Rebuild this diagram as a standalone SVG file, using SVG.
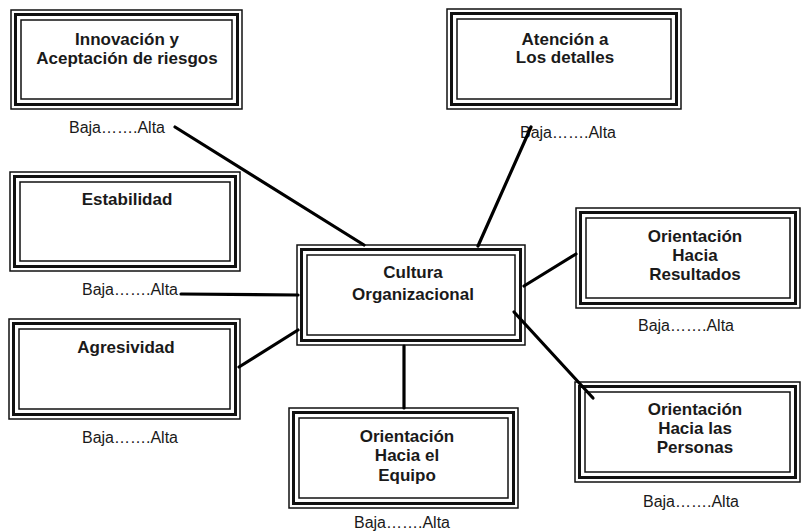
<svg xmlns="http://www.w3.org/2000/svg" width="802" height="531" viewBox="0 0 802 531">
<style>
.o{fill:#fff;stroke:#111;stroke-width:1.5}
.m{fill:none;stroke:#111;stroke-width:3}
.i{fill:none;stroke:#111;stroke-width:1.5}
.t{font-family:"Liberation Sans",Arial,sans-serif;font-weight:bold;font-size:17px;fill:#1a1a1a;text-anchor:middle}
.s{font-family:"Liberation Sans",Arial,sans-serif;font-size:16px;fill:#1a1a1a;text-anchor:middle}
.c{stroke:#000;stroke-width:3.2;fill:none;stroke-linecap:round}
</style>
<rect width="802" height="531" fill="#fff"/>
<g id="n-innovacion">
<rect class="o" x="11" y="10" width="231" height="99"/>
<rect class="m" x="15.5" y="14.5" width="222" height="90"/>
<rect class="i" x="21" y="20" width="211" height="79"/>
<text class="t" x="127" y="45">Innovación y</text>
<text class="t" x="127" y="64">Aceptación de riesgos</text>
<text class="s" x="117" y="133">Baja…….Alta</text>
</g>
<g id="n-atencion">
<rect class="o" x="447" y="9" width="234" height="100"/>
<rect class="m" x="451.5" y="13.5" width="225" height="91"/>
<rect class="i" x="457" y="19" width="214" height="80"/>
<text class="t" x="565" y="45">Atención a</text>
<text class="t" x="565" y="63">Los detalles</text>
<text class="s" x="568" y="138">Baja…….Alta</text>
</g>
<g id="n-estabilidad">
<rect class="o" x="10" y="172" width="230" height="99"/>
<rect class="m" x="14.5" y="176.5" width="221" height="90"/>
<rect class="i" x="20" y="182" width="210" height="79"/>
<text class="t" x="127" y="205">Estabilidad</text>
<text class="s" x="130" y="295">Baja…….Alta</text>
</g>
<g id="n-agresividad">
<rect class="o" x="9" y="319" width="231" height="100"/>
<rect class="m" x="13.5" y="323.5" width="222" height="91"/>
<rect class="i" x="19" y="329" width="211" height="80"/>
<text class="t" x="126" y="353">Agresividad</text>
<text class="s" x="130" y="443">Baja…….Alta</text>
</g>
<g id="n-cultura">
<rect class="o" x="297" y="245" width="228" height="100"/>
<rect class="m" x="301.5" y="249.5" width="219" height="91"/>
<rect class="i" x="307" y="255" width="208" height="80"/>
<text class="t" x="413" y="278">Cultura</text>
<text class="t" x="413" y="300">Organizacional</text>
</g>
<g id="n-resultados">
<rect class="o" x="576" y="208" width="224" height="100"/>
<rect class="m" x="580.5" y="212.5" width="215" height="91"/>
<rect class="i" x="586" y="218" width="204" height="80"/>
<text class="t" x="695" y="242">Orientación</text>
<text class="t" x="695" y="261">Hacia</text>
<text class="t" x="695" y="280">Resultados</text>
<text class="s" x="686" y="331">Baja…….Alta</text>
</g>
<g id="n-equipo">
<rect class="o" x="289" y="408" width="229" height="100"/>
<rect class="m" x="293.5" y="412.5" width="220" height="91"/>
<rect class="i" x="299" y="418" width="209" height="80"/>
<text class="t" x="407" y="442">Orientación</text>
<text class="t" x="407" y="461">Hacia el</text>
<text class="t" x="407" y="481">Equipo</text>
<text class="s" x="402" y="528">Baja…….Alta</text>
</g>
<g id="n-personas">
<rect class="o" x="575" y="382" width="225" height="100"/>
<rect class="m" x="579.5" y="386.5" width="216" height="91"/>
<rect class="i" x="585" y="392" width="205" height="80"/>
<text class="t" x="695" y="415">Orientación</text>
<text class="t" x="695" y="434">Hacia las</text>
<text class="t" x="695" y="453">Personas</text>
<text class="s" x="691" y="507">Baja…….Alta</text>
</g>
<g id="connectors">
<line class="c" x1="175" y1="127" x2="364" y2="245"/>
<line class="c" x1="531" y1="127" x2="478" y2="246"/>
<line class="c" x1="181" y1="294" x2="298" y2="295"/>
<line class="c" x1="239" y1="367" x2="298" y2="330"/>
<line class="c" x1="404" y1="346" x2="404" y2="408"/>
<line class="c" x1="524" y1="286" x2="576" y2="254"/>
<line class="c" x1="514" y1="312" x2="593" y2="398"/>
</g>
</svg>
